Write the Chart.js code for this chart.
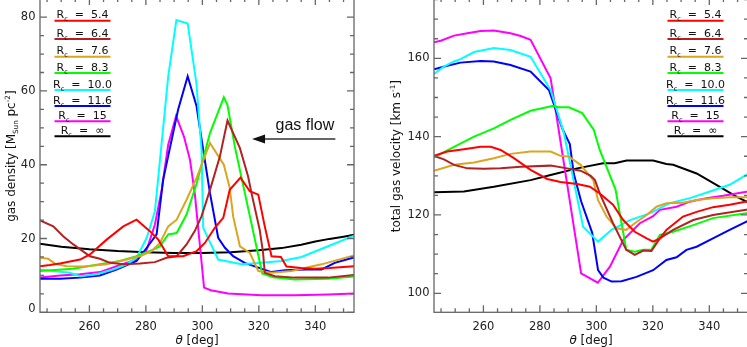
<!DOCTYPE html>
<html>
<head>
<meta charset="utf-8">
<script src="https://cdn.jsdelivr.net/npm/chart.js@4"></script>
<style>
  html, body { margin: 0; padding: 0; background: #fff; overflow: hidden; }
  body { width: 747px; height: 347px; position: relative; }
  canvas { position: absolute; top: -2px; }
  #densChart { left: 0; }
  #velChart { left: 372px; }
</style>
</head>
<body>
<canvas id="densChart" width="372" height="349"></canvas>
<canvas id="velChart" width="380" height="349"></canvas>
<script>
// corotation radii and line colours
const radii = ['5.4', '6.4', '7.6', '8.3', '10.0', '11.6', '15', '∞'];
const colors = ['#ff0000', '#b22222', '#daa520', '#00ff00', '#00ffff', '#0000ff', '#ff00ff', '#000000'];

const thetaTicks = [260, 280, 300, 320, 340];
const densTicks = [0, 20, 40, 60, 80];
const velTicks = [100, 120, 140, 160];

// gas density [Msun pc^-2], pairs of [theta, value]
const dens54 = [[242.5,12.5],[246,12.8],[250,13.3],[254,13.9],[256.7,14.3],[260.2,15.7],[266.1,19.7],[272,23.3],[276.7,25.1],[281.4,22.0],[284.4,19.7],[287.9,15.2],[293.2,15.2],[298,16.6],[300.9,18.8],[304.4,22.9],[307.4,25.6],[309.7,33.2],[313.5,36.5],[316.8,32.8],[319.8,31.9],[322.1,23.3],[324.5,15.2],[327.8,15.0],[329.8,12.4],[335,12.0],[340,11.8],[345,12.0],[353.7,12.5]];
const dens64 = [[242.5,24.9],[247.2,23.3],[250.7,20.6],[254.3,18.4],[260.2,15.2],[263.7,14.5],[267.3,13.4],[272,13.0],[277.9,13.2],[283.2,13.6],[287.3,14.8],[290.9,15.2],[294.4,18.4],[297.3,22.0],[299.7,26.0],[302.7,33.2],[306.2,42.2],[308.9,52.0],[313.3,44.5],[316.2,36.8],[317.4,32.3],[320.3,22.4],[321.5,16.1],[322.1,10.7],[325.7,9.8],[332.7,9.4],[344.5,9.4],[353.7,10.1]];
const dens76 = [[242.5,14.8],[245.4,14.5],[247.8,13.2],[251.9,12.5],[257.8,12.4],[266.1,13.0],[273.2,14.3],[277.9,15.2],[282,16.6],[285,18.8],[287.9,23.3],[290.9,25.1],[294.4,30.5],[298,36.5],[302.7,45.9],[307.6,40.0],[309.7,33.7],[310.9,26.0],[313.3,17.9],[316.8,16.1],[319.8,11.2],[324.5,10.7],[331.6,11.2],[342.2,13.0],[353.7,15.4]];
const dens83 = [[242.5,11.2],[254.3,11.8],[263.7,13.0],[270.8,13.9],[276.7,15.2],[282.6,17.0],[285,17.9],[287.9,21.1],[290.9,21.5],[294.4,26.5],[298,35.0],[302.7,48.6],[307.6,58.3],[308.9,56.2],[311.5,44.9],[321.2,10.5],[325,9.5],[332.7,8.9],[344.5,9.1],[353.7,9.7]];
const dens100 = [[242.5,11.6],[247.2,11.2],[253.1,10.7],[256.7,9.8],[262.6,10.3],[268.4,11.6],[273.2,13.0],[276.7,14.8],[280.3,20.2],[283.2,27.4],[287.9,63.9],[290.8,79.2],[294.8,78.3],[297.9,62.0],[299.7,44.0],[300.3,22.9],[305.6,14.3],[313.9,13.0],[320.9,13.4],[328,13.9],[335.1,15.0],[344.5,17.9],[353.7,20.8]];
const dens116 = [[242.5,9.1],[249.6,9.1],[256.7,9.4],[263.7,10.0],[269.6,11.6],[276.7,13.9],[280.3,17.5],[283.8,21.1],[286.1,35.9],[291.4,54.9],[294.8,64.0],[297.9,56.0],[300.3,44.0],[302.7,32.3],[305.6,20.2],[308,17.5],[310.9,15.2],[315,13.4],[319.8,12.1],[324.5,10.9],[329.2,11.4],[336.3,11.6],[342.2,11.6],[346.9,13.4],[353.7,14.9]];
const dens15 = [[242.5,9.4],[249.6,10.0],[256.7,10.3],[263.7,10.9],[269.6,12.5],[276.7,14.3],[280.3,17.0],[283.2,23.8],[285.6,33.2],[287.9,45.4],[290.7,53.2],[293.5,47.6],[295.6,41.4],[297.3,32.3],[300.6,6.7],[303,6.0],[309.1,5.1],[320.9,4.6],[332.7,4.6],[344.5,4.8],[353.7,5.1]];
const densInf = [[242.5,18.6],[250,17.8],[260,17.1],[270,16.6],[280,16.3],[290,16.1],[300,16.1],[310,16.3],[320,16.8],[328,17.4],[335,18.3],[340,19.2],[345,19.9],[350,20.5],[353.7,21.0]];

// total gas velocity [km s^-1], pairs of [theta, value]
const vel54 = [[242.5,135.1],[247.2,136.2],[253.1,136.8],[259,137.4],[262.6,137.4],[266.1,136.6],[270.8,134.5],[276.7,131.5],[282.6,129.2],[287.3,128.4],[293.2,127.9],[297.7,127.2],[301.2,125.5],[305.9,122.6],[309.5,118.7],[313.6,115.7],[317.8,114.0],[320.1,113.2],[322.5,114.0],[324.8,116.2],[330.7,119.6],[335.5,120.8],[341.3,122.0],[347.2,122.6],[353.7,123.5]];
const vel64 = [[242.5,135.1],[246,134.2],[249.6,132.8],[254.3,131.9],[260.2,131.8],[266.1,131.9],[273.2,132.3],[283.8,132.6],[289.7,131.9],[294.4,131.3],[298,130.0],[299.5,128.9],[301.2,125.5],[305.9,117.9],[310.6,111.1],[313.6,109.8],[316.6,110.9],[319.5,110.8],[322.5,114.0],[327.2,116.2],[334.3,118.7],[341.3,120.0],[353.7,121.4]];
const vel76 = [[242.5,131.3],[249.6,132.8],[256.7,133.4],[263.7,134.5],[269.6,135.6],[276.7,136.2],[283.8,136.2],[287.3,135.1],[290.3,134.9],[294.4,132.8],[298.9,128.9],[300.6,123.8],[303.6,119.6],[307.1,116.6],[310.6,116.2],[313.6,117.9],[317.8,120.0],[321.3,122.1],[324.8,123.0],[330.7,123.1],[335.5,123.8],[341.3,124.3],[347.2,124.5],[353.7,124.5]];
const vel83 = [[242.5,134.7],[249.6,137.4],[256.7,140.0],[263.7,142.1],[269.6,144.3],[276.7,146.6],[284.4,147.8],[286.7,147.5],[290.3,147.5],[295,146.0],[299.1,141.7],[301.2,136.6],[306.8,126.5],[310.6,111.1],[313.6,110.6],[316.6,111.1],[319.5,111.2],[322.5,114.9],[327.2,115.7],[334.3,117.4],[341.3,119.2],[353.7,120.5]];
const vel100 = [[242.5,156.0],[246,157.9],[249.6,159.2],[251.9,159.8],[256.7,161.6],[263.7,162.6],[269.6,162.1],[276.7,160.4],[283.8,151.9],[288.5,140.9],[295.3,117.0],[300.6,113.2],[305.4,116.2],[311.9,118.7],[318.9,120.4],[326,123.0],[333.1,124.3],[340.2,126.0],[347.2,127.7],[353.7,130.5]];
const vel116 = [[242.5,157.2],[247.2,158.1],[251.9,158.9],[259,159.3],[263.7,159.2],[269.6,158.3],[276.7,156.6],[283.2,151.9],[287.9,142.1],[290.6,138.1],[292,130.5],[294.6,123.5],[298.5,115.5],[300.6,105.9],[302.5,104.0],[305.4,103.0],[308.9,103.1],[314.2,104.2],[320.1,105.9],[324.8,108.5],[328.4,109.2],[331.9,111.1],[335.5,111.9],[341.3,114.0],[347.2,116.2],[353.7,118.5]];
const vel15 = [[242.5,164.1],[244.9,164.5],[249.6,165.8],[254.3,166.4],[259,167.0],[263.7,167.1],[269.6,166.4],[273.2,165.7],[276.7,164.7],[283.8,154.9],[294.6,105.1],[300.5,102.7],[304.8,106.8],[309.5,113.6],[315.4,117.9],[320.1,119.7],[322.5,121.3],[328.4,122.1],[333.1,123.4],[339,124.3],[344.9,124.9],[353.7,126.0]];
const velInf = [[242.5,125.8],[253.1,126.0],[263.7,127.2],[276.7,128.9],[283.8,130.2],[293.2,131.9],[302.4,133.2],[306.5,133.2],[310.7,133.9],[320.1,133.9],[324.8,133.0],[327.2,132.8],[335.5,130.6],[342.5,127.7],[349.6,124.7],[353.7,123.2]];

const densSeries = [dens54, dens64, dens76, dens83, dens100, dens116, dens15, densInf];
const velSeries = [vel54, vel64, vel76, vel83, vel100, vel116, vel15, velInf];

const FONT = 'DejaVu Sans';
const AXIS = '#666';
const legendRows = [20.7, 39, 56.7, 73, 90, 106, 121.3, 136.3];

function toDatasets(series) {
  return series.map((pts, i) => ({
    label: 'Rc = ' + radii[i],
    data: pts.map(([x, y]) => ({ x, y })),
    borderColor: colors[i],
    borderWidth: 2,
    pointRadius: 0,
    tension: 0,
    fill: false,
  }));
}

// draws text made of pieces: [text, 'sub' | 'sup' | 'it' | undefined]
function rich(ctx, parts, x, y, size) {
  const fontOf = (k) => (k === 'it' ? 'italic ' : '') + (k === 'sub' || k === 'sup' ? size * 0.6 : size) + 'px "' + FONT + '"';
  let w = 0;
  parts.forEach(([t, k]) => { ctx.font = fontOf(k); w += ctx.measureText(t).width; });
  let cx = x - w / 2;
  parts.forEach(([t, k]) => {
    ctx.font = fontOf(k);
    const dy = k === 'sub' ? size * 0.28 : k === 'sup' ? -size * 0.45 : 0;
    ctx.fillText(t, cx, y + dy);
    cx += ctx.measureText(t).width;
  });
}

function decorPlugin(o) {
  return {
    id: 'decor',
    afterDatasetsDraw(chart) {
      const { ctx, chartArea: a, scales: { x, y } } = chart;
      ctx.save();
      // frame with inward ticks
      ctx.strokeStyle = AXIS;
      ctx.lineWidth = 1.3;
      ctx.strokeRect(a.left, a.top, a.right - a.left, a.bottom - a.top);
      ctx.beginPath();
      for (let t = 245; t <= 350; t += 5) {
        const px = x.getPixelForValue(t);
        const len = thetaTicks.includes(t) ? 7 : 4;
        ctx.moveTo(px, a.bottom); ctx.lineTo(px, a.bottom - len);
        ctx.moveTo(px, a.top); ctx.lineTo(px, a.top + len);
      }
      for (let v = Math.ceil(y.min / 5) * 5; v <= y.max; v += 5) {
        const py = y.getPixelForValue(v);
        const len = o.yTicks.includes(v) ? 7 : 4;
        ctx.moveTo(a.left, py); ctx.lineTo(a.left + len, py);
        ctx.moveTo(a.right, py); ctx.lineTo(a.right - len, py);
      }
      ctx.stroke();

      // tick labels
      ctx.fillStyle = '#222';
      ctx.font = '11.5px "' + FONT + '"';
      ctx.textAlign = 'center';
      ctx.textBaseline = 'alphabetic';
      thetaTicks.forEach((t) => ctx.fillText(String(t), x.getPixelForValue(t), a.bottom + 17.7));
      ctx.textAlign = 'right';
      ctx.textBaseline = 'middle';
      o.yTicks.forEach((v) => {
        const py = Math.min(y.getPixelForValue(v), a.bottom - 3);
        ctx.fillText(String(v), a.left - 4.5, py);
      });

      // legend
      ctx.fillStyle = '#111';
      ctx.textAlign = 'left';
      ctx.textBaseline = 'alphabetic';
      legendRows.forEach((ry, i) => {
        const yy = ry + 2;
        ctx.strokeStyle = colors[i];
        ctx.lineWidth = 2;
        ctx.beginPath();
        ctx.moveTo(o.legendX - 28, yy); ctx.lineTo(o.legendX + 28, yy);
        ctx.stroke();
        rich(ctx, [['R'], ['c', 'sub'], ['  =  ' + radii[i]]], o.legendX, yy - 2.5, 11);
      });

      // axis titles
      rich(ctx, [['θ', 'it'], [' [deg]']], (a.left + a.right) / 2, 346, 12);
      ctx.translate(o.yTitleX, (a.top + a.bottom) / 2 + 1);
      ctx.rotate(-Math.PI / 2);
      rich(ctx, o.yTitle, 0, 0, 12);
      ctx.restore();

      if (o.flow) {
        ctx.save();
        const tip = x.getPixelForValue(317.6);
        const tail = x.getPixelForValue(347.1);
        const ay = y.getPixelForValue(47);
        ctx.strokeStyle = '#333';
        ctx.fillStyle = '#111';
        ctx.lineWidth = 1.5;
        ctx.beginPath();
        ctx.moveTo(tail, ay); ctx.lineTo(tip + 10, ay);
        ctx.stroke();
        ctx.beginPath();
        ctx.moveTo(tip, ay); ctx.lineTo(tip + 13, ay - 4.5); ctx.lineTo(tip + 13, ay + 4.5);
        ctx.closePath();
        ctx.fill();
        ctx.font = '16px "Liberation Sans"';
        ctx.textAlign = 'center';
        ctx.fillText('gas flow', x.getPixelForValue(336.3), y.getPixelForValue(49.4));
        ctx.restore();
      }
    },
  };
}

function makeChart(id, series, yMin, yMax, yTicks, yWidth, padRight, extra) {
  return new Chart(document.getElementById(id), {
    type: 'line',
    data: { datasets: toDatasets(series) },
    options: {
      responsive: false,
      animation: false,
      layout: { autoPadding: false, padding: { left: 0, right: padRight, top: 0, bottom: 0 } },
      plugins: { legend: { display: false }, tooltip: { enabled: false } },
      scales: {
        x: {
          type: 'linear',
          min: 242.5,
          max: 353.7,
          grid: { display: false, drawTicks: false },
          border: { display: false },
          ticks: { display: false },
          afterFit: (s) => { s.height = 34.7; s.paddingLeft = 0; s.paddingRight = 0; },
        },
        y: {
          min: yMin,
          max: yMax,
          grid: { display: false, drawTicks: false },
          border: { display: false },
          ticks: { display: false },
          afterFit: (s) => { s.width = yWidth; s.paddingTop = 0; s.paddingBottom = 0; },
        },
      },
    },
    plugins: [decorPlugin(Object.assign({ yTicks }, extra))],
  });
}

makeChart('densChart', densSeries, 0, 85.2, densTicks, 40, 18, {
  legendX: 82.5,
  yTitleX: 15,
  flow: true,
  yTitle: [['gas density [M'], ['Sun', 'sub'], [' pc'], ['-2', 'sup'], [']']],
});

makeChart('velChart', velSeries, 95.15, 175.4, velTicks, 62, 4, {
  legendX: 323.5,
  yTitleX: 28,
  flow: false,
  yTitle: [['total gas velocity [km s'], ['-1', 'sup'], [']']],
});
</script>
</body>
</html>
